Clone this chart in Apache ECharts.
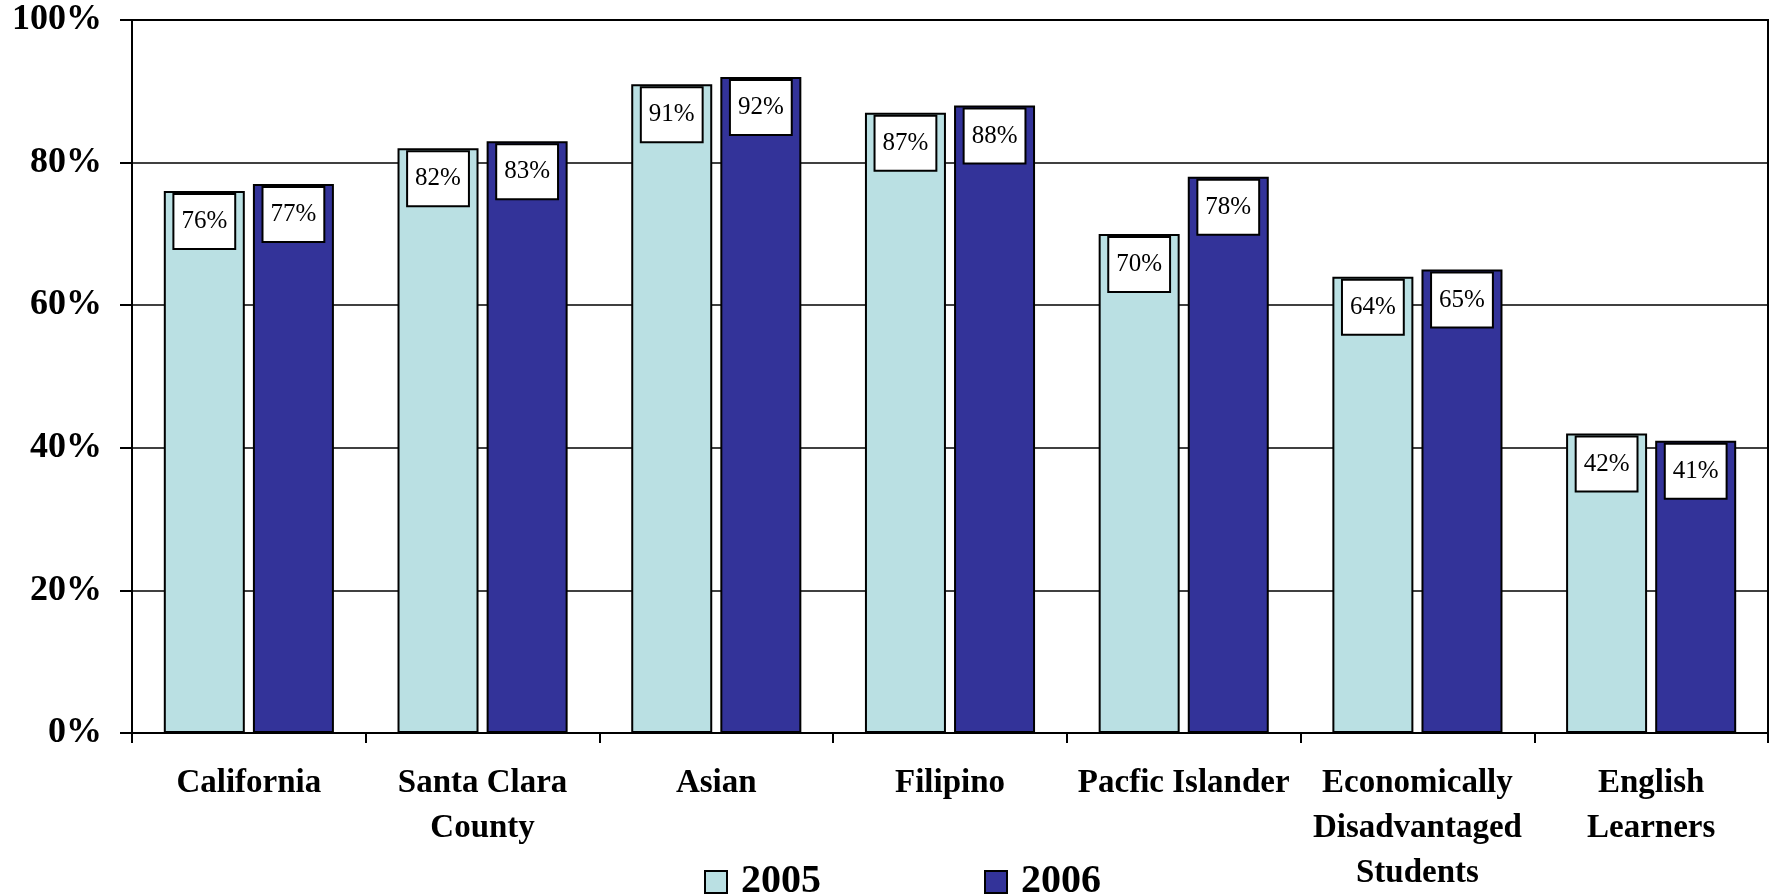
<!DOCTYPE html>
<html>
<head>
<meta charset="utf-8">
<script src="https://cdn.jsdelivr.net/npm/echarts@6/dist/echarts.min.js"></script>
<style>
html,body{margin:0;padding:0;background:#fff;}
#chart{width:1774px;height:896px;}
</style>
</head>
<body>
<div id="chart"></div>
<script>
const categories = ['California', 'Santa Clara\nCounty', 'Asian', 'Filipino', 'Pacfic Islander', 'Economically\nDisadvantaged\nStudents', 'English\nLearners'];
const values2005 = [76, 82, 91, 87, 70, 64, 42];
const values2006 = [77, 83, 92, 88, 78, 65, 41];
const seriesNames = ['2005', '2006'];
const yTicks = [0, 20, 40, 60, 80, 100];

const FONT = '"Liberation Serif", "Times New Roman", serif';
const chart = echarts.init(document.getElementById('chart'));

const labelStyle = {
  show: true,
  position: 'insideTop',
  distance: 4,
  formatter: '{c}%',
  fontFamily: FONT,
  fontSize: 25,
  lineHeight: 25,
  color: '#000',
  backgroundColor: '#fff',
  borderColor: '#000',
  borderWidth: 2,
  padding: [14, 7]
};

chart.setOption({
  animation: false,
  backgroundColor: '#fff',
  grid: {
    left: 132, right: 6, top: 20, bottom: 163,
    show: true, borderColor: '#000', borderWidth: 2
  },
  legend: {
    data: seriesNames,
    icon: 'rect',
    left: 704,
    top: 862,
    padding: 0,
    itemWidth: 22,
    itemHeight: 22,
    itemGap: 163,
    textStyle: {
      fontFamily: FONT, fontSize: 40, fontWeight: 'bold', color: '#000',
      lineHeight: 40, padding: [0, 0, 0, 9]
    }
  },
  xAxis: {
    type: 'category',
    data: categories,
    boundaryGap: true,
    axisLine: { lineStyle: { color: '#000', width: 2 } },
    axisTick: { show: true, length: 10, lineStyle: { color: '#000', width: 2 } },
    axisLabel: {
      interval: 0,
      margin: 28,
      fontFamily: FONT, fontSize: 33, fontWeight: 'bold', color: '#000',
      lineHeight: 45
    }
  },
  yAxis: {
    type: 'value',
    min: 0, max: 100, interval: 20,
    axisLine: { show: true, lineStyle: { color: '#000', width: 2 } },
    axisTick: { show: true, length: 12, lineStyle: { color: '#000', width: 2 } },
    splitLine: { show: true, lineStyle: { color: '#000', width: 1.5 } },
    axisLabel: {
      margin: 30,
      fontFamily: FONT, fontSize: 36, fontWeight: 'bold', color: '#000',
      formatter: function (v) { return yTicks.indexOf(v) >= 0 ? v + '%' : ''; }
    }
  },
  series: [
    {
      name: seriesNames[0], type: 'bar', data: values2005,
      barWidth: 81, barGap: '10%',
      itemStyle: { color: '#BAE0E3', borderColor: '#000', borderWidth: 2 },
      label: labelStyle
    },
    {
      name: seriesNames[1], type: 'bar', data: values2006,
      barWidth: 81, barGap: '10%',
      itemStyle: { color: '#333399', borderColor: '#000', borderWidth: 2 },
      label: labelStyle
    }
  ]
});
</script>
</body>
</html>
